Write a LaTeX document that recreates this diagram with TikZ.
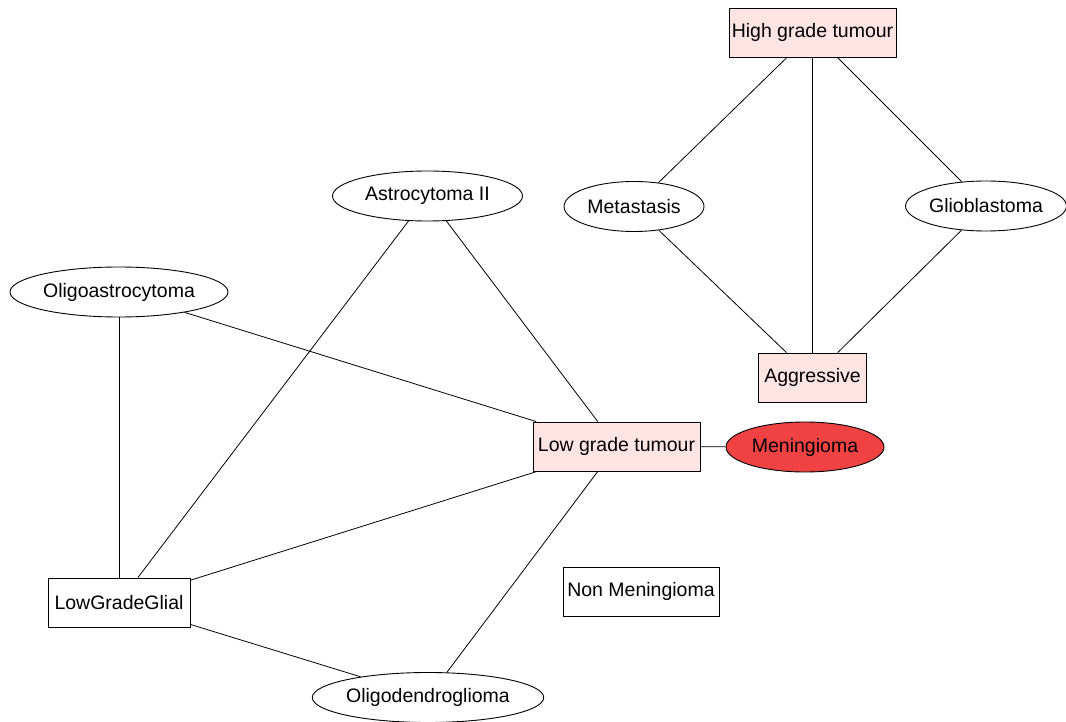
\documentclass[tikz,border=0pt]{standalone}
\usepackage{fontspec}
\setmainfont{Liberation Sans}
\usetikzlibrary{shapes.geometric}
\definecolor{pinkfill}{RGB}{255,228,228}
\definecolor{menred}{RGB}{240,66,66}
\tikzset{
  box/.style={draw=black, line width=0.9pt, fill=pinkfill, rectangle, inner sep=0pt, minimum height=49pt, font=\fontsize{19.5}{21}\selectfont},
  wbox/.style={box, fill=white},
  oval/.style={draw=black, line width=0.9pt, fill=white, ellipse, inner sep=0pt, minimum height=50pt, font=\fontsize{19.5}{21}\selectfont},
  edge/.style={draw=black, line width=0.8pt}
}
\begin{document}
\begin{tikzpicture}[x=1pt,y=-1pt]
\useasboundingbox (0,0) rectangle (1066,722);
\node[box, minimum width=167pt] (hgt) at (812.5,32.5) {High grade tumour};
\node[oval, minimum width=140pt] (met) at (634,206.5) {Metastasis};
\node[oval, minimum width=158pt] (gbm) at (986,206) {Glioblastoma};
\node[box, minimum width=108pt] (agg) at (812.5,377.5) {Aggressive};
\node[oval, minimum width=190pt] (astro) at (427.5,196) {Astrocytoma II};
\node[oval, minimum width=218pt] (oligoa) at (119,292) {Oligoastrocytoma};
\node[box, minimum width=167pt] (lgt) at (616.5,446.5) {Low grade tumour};
\node[oval, minimum width=158pt, fill=menred] (men) at (805,447) {Meningioma};
\node[wbox, minimum width=142pt] (lgg) at (119,602.5) {LowGradeGlial};
\node[wbox, minimum width=156pt] (nonmen) at (641,591.5) {Non Meningioma};
\node[oval, minimum width=230pt] (oligod) at (428,697.5) {Oligodendroglioma};

\draw[edge] (hgt) -- (met);
\draw[edge] (hgt) -- (agg);
\draw[edge] (hgt) -- (gbm);
\draw[edge] (met) -- (agg);
\draw[edge] (gbm) -- (agg);
\draw[edge] (astro) -- (lgg);
\draw[edge] (astro) -- (lgt);
\draw[edge] (oligoa) -- (lgt);
\draw[edge] (oligoa) -- (lgg);
\draw[edge] (lgg) -- (lgt);
\draw[edge] (lgt) -- (men);
\draw[edge] (lgt) -- (oligod);
\draw[edge] (lgg) -- (oligod);
\end{tikzpicture}
\end{document}
